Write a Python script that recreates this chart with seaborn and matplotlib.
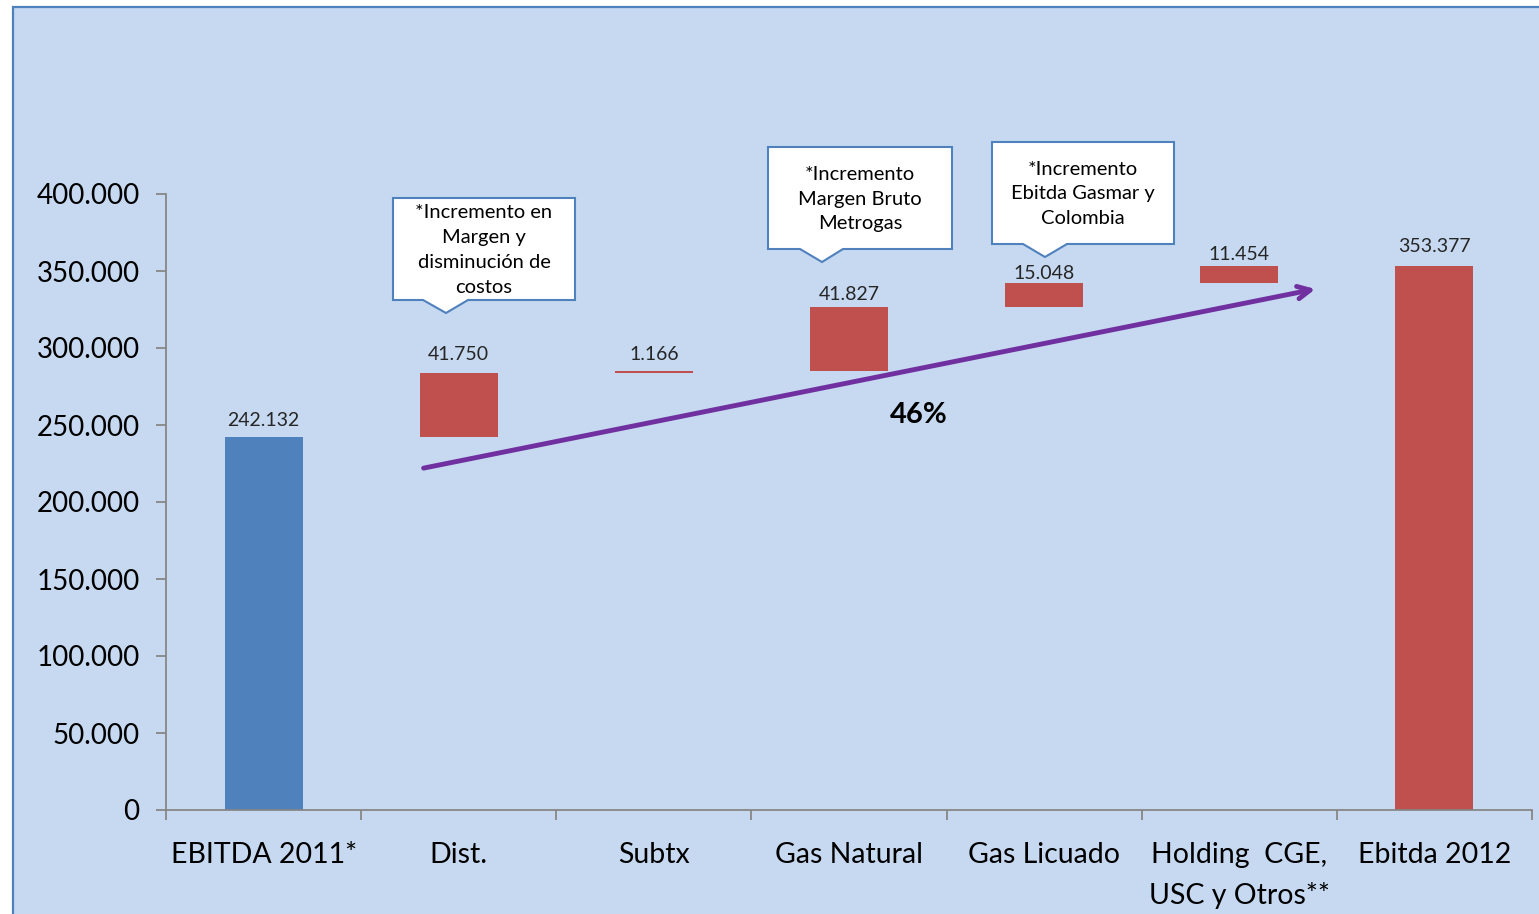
import matplotlib
matplotlib.use("Agg")
import numpy as np
import pandas as pd
import seaborn as sns
import matplotlib.pyplot as plt
from matplotlib.patches import Polygon, Rectangle
from matplotlib.ticker import FuncFormatter

# data (miles de $)
categorias = ["EBITDA 2011*", "Dist.", "Subtx", "Gas Natural", "Gas Licuado",
              "Holding  CGE,\nUSC y Otros**", "Ebitda 2012"]
variaciones = [242132, 41750, 1166, 41827, 15048, 11454]
total_2012 = 353377
etiquetas = ["242.132", "41.750", "1.166", "41.827", "15.048", "11.454", "353.377"]
callouts = ["*Incremento en\nMargen y\ndisminución de\ncostos",
            "*Incremento\nMargen Bruto\nMetrogas",
            "*Incremento\nEbitda Gasmar y\nColombia"]
crecimiento = "46%"

# waterfall bases
bases = [0] + list(np.cumsum(variaciones)[:-1]) + [0]
alturas = variaciones + [total_2012]
df = pd.DataFrame({"cat": categorias, "alto": alturas, "base": bases})

BG = "#C6D9F1"
BLUE = "#4F81BD"
RED = "#C0504D"
PURPLE = "#7030A0"

sns.set_style("white")
plt.rcParams["font.family"] = ["Lato", "DejaVu Sans"]

W, H = 1539, 914
fig = plt.figure(figsize=(W / 100, H / 100), dpi=100, facecolor="white")

def px(x, y):
    return (x / W, 1 - y / H)

# chart area frame
fig.patches.append(Rectangle((13 / W, -0.05), 1.1, 1.05 - 7 / H,
                             transform=fig.transFigure, facecolor=BG,
                             edgecolor=BLUE, lw=1.6, zorder=-1))

ax = fig.add_axes([166 / W, 1 - 810 / H, (1532 - 166) / W, (810 - 194) / H])
ax.set_facecolor("none")

sns.barplot(data=df, x="cat", y="alto", bottom=df["base"].values, color=RED,
            saturation=1, width=0.4, linewidth=0, ax=ax, zorder=2)
ax.patches[0].set_facecolor(BLUE)

# label offsets above bar tops (points), as placed in the original
offs = [12, 13, 12, 9, 7, 8, 14]
for i, (b, h, lab) in enumerate(zip(bases, alturas, etiquetas)):
    ax.annotate(lab, (i, b + h), xytext=(0, offs[i]), textcoords="offset points",
                ha="center", va="center", fontsize=14, color="#262626")

ax.set_xlim(-0.5, 6.5)
ax.set_ylim(0, 400000)
ax.set_yticks(np.arange(0, 400001, 50000))
ax.yaxis.set_major_formatter(FuncFormatter(lambda v, p: f"{v:,.0f}".replace(",", ".")))
ax.set_xlabel("")
ax.set_ylabel("")

for s in ["top", "right"]:
    ax.spines[s].set_visible(False)
for s in ["left", "bottom"]:
    ax.spines[s].set_color("#868686")
    ax.spines[s].set_linewidth(1.3)

ax.tick_params(axis="y", length=7, width=1.3, color="#868686", pad=12,
               labelsize=20, labelcolor="black", left=True)
ax.set_xticks(np.arange(-0.5, 7, 1), minor=True)
ax.tick_params(axis="x", which="minor", length=7, width=1.3, color="#868686", bottom=True)
ax.tick_params(axis="x", which="major", length=0, pad=23, labelsize=20.5, labelcolor="black")
for t in ax.get_xticklabels():
    t.set_linespacing(1.62)

# trend arrow
ax.annotate("", xy=(5.39, 338300), xytext=(0.82, 222000),
            arrowprops=dict(arrowstyle="->,head_length=0.9,head_width=0.45",
                            lw=3.5, color=PURPLE, shrinkA=0, shrinkB=0), zorder=4)
ax.text(3.355, 256500, crecimiento, ha="center", va="center", fontsize=21,
        fontweight="bold", color="black")

# callout boxes (pixel layout)
cajas = [
    (393, 575, 198, 300, (423, 446, 468, 313)),
    (768, 952, 147, 249, (800, 822, 843, 262)),
    (992, 1174, 142, 244, (1023, 1045, 1067, 257)),
]
for (x0, x1, y0, y1, (pl, pt, pr, py)), txt in zip(cajas, callouts):
    pts = [px(x0, y0), px(x1, y0), px(x1, y1), px(pr, y1), px(pt, py),
           px(pl, y1), px(x0, y1)]
    fig.patches.append(Polygon(pts, closed=True, transform=fig.transFigure,
                               facecolor="white", edgecolor=BLUE, lw=1.5, zorder=5))
    cx, cy = px((x0 + x1) / 2, (y0 + y1) / 2 + 1)
    fig.text(cx, cy, txt, ha="center", va="center", fontsize=14.5,
             linespacing=1.55, color="black", zorder=6)

fig.savefig("out.png", dpi=100, facecolor="white")
